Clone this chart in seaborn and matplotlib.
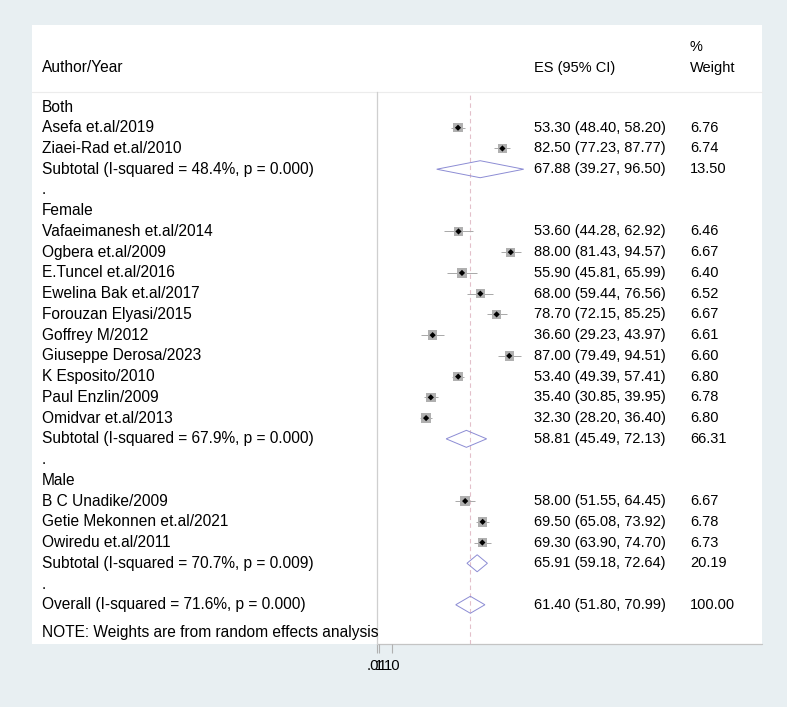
import numpy as np
import matplotlib
matplotlib.use("Agg")
import matplotlib.pyplot as plt
import matplotlib.transforms as mtransforms
from matplotlib.lines import Line2D
from matplotlib.patches import Rectangle, Polygon
import seaborn as sns

sns.set_style("white")
plt.rcParams['font.family'] = ['Liberation Sans', 'DejaVu Sans']
plt.rcParams['text.color'] = 'black'
plt.rcParams['xtick.color'] = 'black'

# data
groups = ["Both", "Female", "Male"]
both_names = ["Asefa et.al/2019", "Ziaei-Rad et.al/2010"]
both_es = [53.30, 82.50]
both_lo = [48.40, 77.23]
both_hi = [58.20, 87.77]
both_w = [6.76, 6.74]

female_names = ["Vafaeimanesh et.al/2014", "Ogbera et.al/2009", "E.Tuncel et.al/2016",
                "Ewelina Bak et.al/2017", "Forouzan Elyasi/2015", "Goffrey M/2012",
                "Giuseppe Derosa/2023", "K Esposito/2010", "Paul Enzlin/2009",
                "Omidvar et.al/2013"]
female_es = [53.60, 88.00, 55.90, 68.00, 78.70, 36.60, 87.00, 53.40, 35.40, 32.30]
female_lo = [44.28, 81.43, 45.81, 59.44, 72.15, 29.23, 79.49, 49.39, 30.85, 28.20]
female_hi = [62.92, 94.57, 65.99, 76.56, 85.25, 43.97, 94.51, 57.41, 39.95, 36.40]
female_w = [6.46, 6.67, 6.40, 6.52, 6.67, 6.61, 6.60, 6.80, 6.78, 6.80]

male_names = ["B C Unadike/2009", "Getie Mekonnen et.al/2021", "Owiredu et.al/2011"]
male_es = [58.00, 69.50, 69.30]
male_lo = [51.55, 65.08, 63.90]
male_hi = [64.45, 73.92, 74.70]
male_w = [6.67, 6.78, 6.73]

sub_labels = ["Subtotal (I-squared = 48.4%, p = 0.000)",
              "Subtotal (I-squared = 67.9%, p = 0.000)",
              "Subtotal (I-squared = 70.7%, p = 0.009)"]
sub_es = [67.88, 58.81, 65.91]
sub_lo = [39.27, 45.49, 59.18]
sub_hi = [96.50, 72.13, 72.64]
sub_w = [13.50, 66.31, 20.19]

overall_label = "Overall (I-squared = 71.6%, p = 0.000)"
overall_es, overall_lo, overall_hi, overall_w = 61.40, 51.80, 70.99, 100.00
note = "NOTE: Weights are from random effects analysis"

tick_vals = [0.01, 1, 10]
tick_labels = [".01", "1", "10"]

# build row table
study_rows = []   # (row, name, es, lo, hi, w)
diamond_rows = []
text_rows = []    # (row, label)
r = 0
grp_data = [(both_names, both_es, both_lo, both_hi, both_w),
            (female_names, female_es, female_lo, female_hi, female_w),
            (male_names, male_es, male_lo, male_hi, male_w)]
for gi, (nm, es, lo, hi, w) in enumerate(grp_data):
    text_rows.append((r, groups[gi]))
    r += 1
    for k in range(len(nm)):
        study_rows.append((r, nm[k], es[k], lo[k], hi[k], w[k]))
        r += 1
    diamond_rows.append((r, sub_labels[gi], sub_es[gi], sub_lo[gi], sub_hi[gi], sub_w[gi]))
    r += 1
    text_rows.append((r, "."))
    r += 1
diamond_rows.append((r, overall_label, overall_es, overall_lo, overall_hi, overall_w))
note_row = r + 1.36

W, H = 787, 707
fig = plt.figure(figsize=(W / 100, H / 100), dpi=100)
fig.patch.set_facecolor('#e8eff2')

def fx(px):
    return px / W

def fy(py):
    return 1 - py / H

fig.patches.append(Rectangle((fx(32), fy(644)), fx(762) - fx(32), fy(25) - fy(644),
                             transform=fig.transFigure, facecolor='white',
                             edgecolor='none', zorder=-2))
fig.lines.append(Line2D([fx(32), fx(762)], [fy(92), fy(92)], transform=fig.transFigure,
                        color='#ececec', lw=0.8, zorder=-1))
fig.lines.append(Line2D([fx(377), fx(762)], [fy(644), fy(644)], transform=fig.transFigure,
                        color='#c4c4c4', lw=0.9, zorder=-1))

ax = fig.add_axes([fx(377), fy(644), fx(525) - fx(377), fy(92) - fy(644)])
ax.set_facecolor('none')
ax.set_xlim(0, (525 - 377) / 1.52)
row_px = 20.74
ax.set_ylim((644 - 107) / row_px, (92 - 107) / row_px)

for s in ['top', 'right', 'bottom']:
    ax.spines[s].set_visible(False)
ax.spines['left'].set_color('#cfcfcf')
ax.spines['left'].set_linewidth(0.9)
ax.set_yticks([])
ax.set_xticks(tick_vals)
ax.set_xticklabels(tick_labels, fontsize=10.6)
ax.tick_params(axis='x', length=6.5, width=0.8, color='#b0b0b0', pad=4, bottom=True,
               labelcolor='black')

ax.axvline(overall_es, color='#e3c0ca', lw=0.8, dashes=(4, 3), zorder=1)

rows = np.array([s[0] for s in study_rows])
es_arr = np.array([s[2] for s in study_rows])
lo_arr = np.array([s[3] for s in study_rows])
hi_arr = np.array([s[4] for s in study_rows])
w_arr = np.array([s[5] for s in study_rows])

ax.hlines(rows, lo_arr, hi_arr, color='#a8a8a8', lw=0.7, zorder=2)
sns.scatterplot(x=es_arr, y=rows, marker='s', s=w_arr * 6.8, color='#b0b0b0',
                edgecolor='none', ax=ax, zorder=3, legend=False)
sns.scatterplot(x=es_arr, y=rows, marker='D', s=10, color='black',
                edgecolor='none', ax=ax, zorder=4, legend=False)

half_h = 8.5 / row_px
for (rr, lab, e, lo, hi, w) in diamond_rows:
    ax.add_patch(Polygon([(lo, rr), (e, rr - half_h), (hi, rr), (e, rr + half_h)],
                         closed=True, facecolor='none', edgecolor='#8c8cd4', lw=0.7, zorder=3))

tr = mtransforms.blended_transform_factory(fig.transFigure, ax.transData)
fs = 10.5
fl = 11.2
for (rr, lab) in text_rows:
    ax.text(fx(42), rr, lab, transform=tr, va='center', ha='left', fontsize=fl)
for (rr, lab, e, lo, hi, w) in study_rows + diamond_rows:
    ax.text(fx(42), rr, lab, transform=tr, va='center', ha='left', fontsize=fl)
    ax.text(fx(534), rr, f"{e:.2f} ({lo:.2f}, {hi:.2f})", transform=tr,
            va='center', ha='left', fontsize=fs)
    ax.text(fx(690), rr, f"{w:.2f}", transform=tr, va='center', ha='left', fontsize=fs)
ax.text(fx(42), note_row, note, transform=tr, va='center', ha='left', fontsize=fl)

fig.text(fx(42), fy(68), "Author/Year", va='center', ha='left', fontsize=fl)
fig.text(fx(534), fy(68), "ES (95% CI)", va='center', ha='left', fontsize=fs)
fig.text(fx(690), fy(47), "%", va='center', ha='left', fontsize=fs)
fig.text(fx(690), fy(68), "Weight", va='center', ha='left', fontsize=fs)

fig.savefig("out.png", dpi=100, facecolor=fig.get_facecolor())
